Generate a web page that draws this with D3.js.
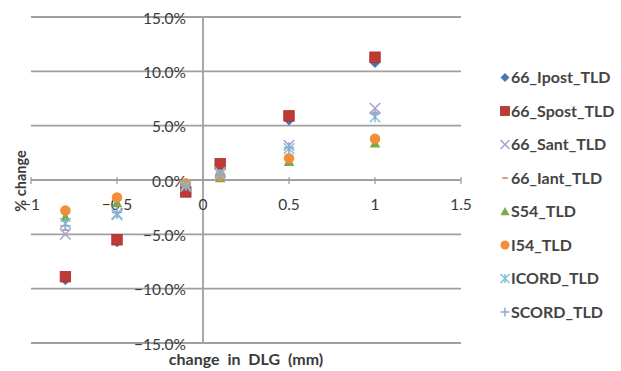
<!DOCTYPE html>
<html>
<head>
<meta charset="utf-8">
<script src="https://cdn.jsdelivr.net/npm/d3@7"></script>
<style>
  html, body { margin: 0; padding: 0; background: #fff; }
  svg { display: block; font-family: Lato, "Open Sans", sans-serif; }
</style>
</head>
<body>
<svg id="chart" width="621" height="371"></svg>
<script>
// Change in DLG (mm) at which each dose was measured
const dlgChange = [-0.8, -0.5, -0.1, 0.1, 0.5, 1];

// Percent change in TLD dose for each detector position
const seriesNames = ["66_Ipost_TLD", "66_Spost_TLD", "66_Sant_TLD", "66_Iant_TLD",
                     "S54_TLD", "I54_TLD", "ICORD_TLD", "SCORD_TLD"];
const ipost66 = [-9.2, -5.7, -1.0, 1.2, 5.5, 10.8];
const spost66 = [-8.9, -5.5, -1.1, 1.5, 5.9, 11.3];
const sant66  = [-5.0, -3.2, -0.6, 0.7, 3.2, 6.6];
const iant66  = [-4.6, -3.0, -0.5, 0.6, 3.0, 6.2];
const s54     = [-3.4, -2.1, -0.4, 0.2, 1.7, 3.4];
const i54     = [-2.8, -1.6, -0.3, 0.4, 2.0, 3.8];
const icord   = [-4.0, -3.1, -0.5, 0.5, 2.9, 5.8];
const scord   = [-4.2, -3.0, -0.5, 0.5, 3.0, 6.1];

const xTicks = [-1, -0.5, 0, 0.5, 1, 1.5];
const yTicks = [-15, -10, -5, 0, 5, 10, 15];

const seriesValues = [ipost66, spost66, sant66, iant66, s54, i54, icord, scord];
const markerStyle = [
  { shape: "diamond",  color: "#4A74B4" },
  { shape: "square",   color: "#BE3A36" },
  { shape: "cross",    color: "#A3A3CF" },
  { shape: "dash",     color: "#D9959A" },
  { shape: "triangle", color: "#7FA84A" },
  { shape: "circle",   color: "#F08E3A" },
  { shape: "asterisk", color: "#7CC3DD" },
  { shape: "plus",     color: "#93A6CC" }
];

const svg = d3.select("#chart");
const x = d3.scaleLinear().domain([-1, 1.5]).range([31, 461]);
const y = d3.scaleLinear().domain([-15, 15]).range([343, 17]);
const gridColor = "#A0A0A0";
const textColor = "#3A3A3A";

// horizontal gridlines
svg.append("g").selectAll("line").data(yTicks).join("line")
  .attr("x1", x(-1)).attr("x2", x(1.5))
  .attr("y1", d => y(d)).attr("y2", d => y(d))
  .attr("stroke", gridColor).attr("stroke-width", 1.8);

// vertical axis at x = 0
svg.append("line")
  .attr("x1", x(0)).attr("x2", x(0))
  .attr("y1", y(15)).attr("y2", y(-15))
  .attr("stroke", gridColor).attr("stroke-width", 1.8);

// tick marks on the horizontal axis
svg.append("g").selectAll("line").data(xTicks).join("line")
  .attr("x1", d => x(d)).attr("x2", d => x(d))
  .attr("y1", y(0) - 3).attr("y2", y(0) + 4)
  .attr("stroke", gridColor).attr("stroke-width", 1.3);

// x tick labels
svg.append("g").selectAll("text").data(xTicks).join("text")
  .attr("x", d => x(d)).attr("y", y(0) + 30)
  .attr("text-anchor", "middle")
  .attr("font-size", 15.5).attr("fill", textColor)
  .text(d => d3.format("")(d));

// y tick labels
svg.append("g").selectAll("text").data(yTicks).join("text")
  .attr("x", x(0) - 17).attr("y", d => y(d) + 6.5)
  .attr("text-anchor", "end")
  .attr("font-size", 15.5).attr("fill", textColor)
  .text(d => d3.format(".1f")(d) + "%");

// axis titles
svg.append("text")
  .attr("transform", "translate(26,181) rotate(-90)")
  .attr("text-anchor", "middle")
  .attr("font-size", 14.5).attr("font-weight", 700).attr("fill", textColor)
  .text("% change");

svg.append("text")
  .attr("x", 246).attr("y", 365)
  .attr("text-anchor", "middle")
  .attr("font-size", 16).attr("font-weight", 700).attr("fill", textColor)
  .attr("word-spacing", 4)
  .text("change in DLG (mm)");

// marker drawing
function drawMarker(g, shape, color, size) {
  const h = size / 2;
  switch (shape) {
    case "diamond":
      g.append("path").attr("d", `M0,${-h}L${h},0L0,${h}L${-h},0Z`).attr("fill", color);
      break;
    case "square":
      g.append("rect").attr("x", -h).attr("y", -h).attr("width", size).attr("height", size)
        .attr("fill", color).attr("stroke", "#A8302D").attr("stroke-width", 0.8);
      break;
    case "triangle":
      g.append("path").attr("d", `M0,${-h}L${h},${h * 0.85}L${-h},${h * 0.85}Z`).attr("fill", color);
      break;
    case "circle":
      g.append("circle").attr("r", h).attr("fill", color);
      break;
    case "cross":
      g.append("path").attr("d", `M${-h},${-h}L${h},${h}M${-h},${h}L${h},${-h}`)
        .attr("stroke", color).attr("stroke-width", 1.5);
      break;
    case "asterisk":
      g.append("path").attr("d", `M${-h},${-h}L${h},${h}M${-h},${h}L${h},${-h}M0,${-h}L0,${h}`)
        .attr("stroke", color).attr("stroke-width", 1.5);
      break;
    case "plus":
      g.append("path").attr("d", `M${-h},0L${h},0M0,${-h}L0,${h}`)
        .attr("stroke", color).attr("stroke-width", 1.5);
      break;
    case "dash":
      g.append("path").attr("d", `M${-h * 0.6},0L${h * 0.6},0`)
        .attr("stroke", color).attr("stroke-width", 2);
      break;
  }
}

// data points
seriesValues.forEach((vals, i) => {
  const st = markerStyle[i];
  const pts = dlgChange.map((d, j) => ({ x: d, y: vals[j] }));
  svg.append("g").selectAll("g").data(pts).join("g")
    .attr("transform", d => `translate(${x(d.x)},${y(d.y)})`)
    .each(function () { drawMarker(d3.select(this), st.shape, st.color, 10.5); });
});

// legend
const legend = svg.append("g");
seriesNames.forEach((name, i) => {
  const ly = 77.5 + i * 33.5;
  const g = legend.append("g").attr("transform", `translate(505,${ly})`);
  drawMarker(g, markerStyle[i].shape, markerStyle[i].color, 9);
  legend.append("text")
    .attr("x", 511).attr("y", ly + 5.5)
    .attr("font-size", 16).attr("font-weight", 700).attr("fill", "#444")
    .text(name);
});
</script>
</body>
</html>
